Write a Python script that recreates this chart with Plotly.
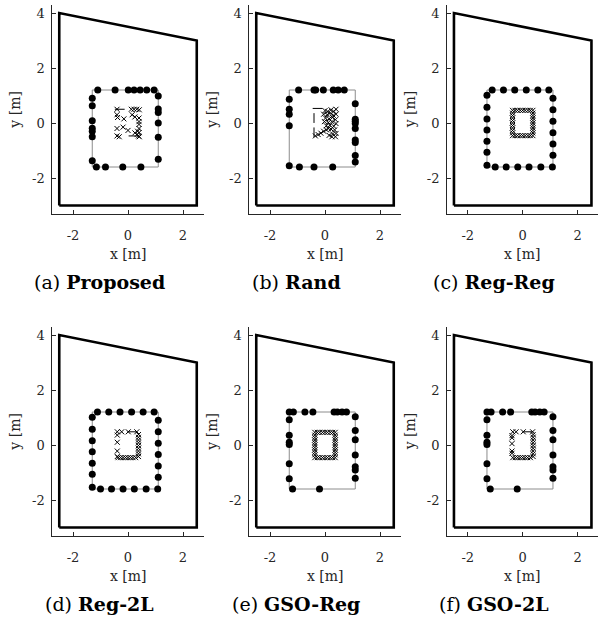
import plotly.graph_objects as go

# ---------------- geometry ----------------
room_x = [-2.5, -2.5, 2.5, 2.5, -2.5]
room_y = [-3.0, 4.0, 3.0, -3.0, -3.0]

array_x = [-1.3, -1.3, 1.1, 1.1, -1.3]
array_y = [-1.6, 1.2, 1.2, -1.6, -1.6]

x_ticks = [-2, 0, 2]
x_tick_labels = ["-2", "0", "2"]
y_ticks = [-2, 0, 2, 4]
y_tick_labels = ["-2", "0", "2", "4"]

# ---------------- loudspeaker positions ----------------
# (a) Proposed
spk_prop_x = [-1.10, -0.47, 0.01, 0.22, 0.44, 0.68, 0.95,
              -1.3, -1.3, -1.3, -1.3, -1.3, -1.3, -1.3,
              -1.15, -0.82, -0.19, 0.47,
              1.1, 1.1, 1.1, 1.1, 1.1, 1.1]
spk_prop_y = [1.2, 1.2, 1.2, 1.2, 1.2, 1.2, 1.2,
              0.90, 0.63, 0.08, -0.19, -0.30, -0.50, -1.37,
              -1.6, -1.6, -1.6, -1.6,
              0.98, 0.51, 0.38, 0.00, -0.52, -1.32]

# (b) Rand
spk_rand_x = [-0.96, -0.40, -0.34, -0.06, 0.30, 0.48, 0.70,
              -1.3, -1.3, -1.3, -1.3, -1.3,
              -0.93, -0.40, 0.28,
              1.1, 1.1, 1.1, 1.1, 1.1, 1.1, 1.1, 1.1, 1.1]
spk_rand_y = [1.2, 1.2, 1.2, 1.2, 1.2, 1.2, 1.2,
              0.86, 0.50, 0.32, -0.10, -1.55,
              -1.6, -1.6, -1.6,
              0.70, 0.14, 0.06, -0.02, -0.20, -0.62, -0.71, -1.18, -1.42]

# (c), (d) regular array
spk_reg_x = [-1.11, -0.70, -0.29, 0.13, 0.55, 0.95,
             -1.3, -1.3, -1.3, -1.3, -1.3, -1.3, -1.3,
             -1.00, -0.60, -0.18, 0.23, 0.66, 1.08,
             1.1, 1.1, 1.1, 1.1, 1.1, 1.1]
spk_reg_y = [1.2, 1.2, 1.2, 1.2, 1.2, 1.2,
             1.01, 0.57, 0.15, -0.25, -0.66, -1.06, -1.54,
             -1.6, -1.6, -1.6, -1.6, -1.6, -1.6,
             0.90, 0.48, 0.06, -0.35, -0.76, -1.17]

# (e), (f) GSO-selected array
spk_gso_x = [-1.30, -1.15, -0.73, -0.44, 0.33, 0.45, 0.62, 0.78,
             -1.3, -1.3, -1.3, -1.3, -1.3, -1.3,
             -1.18, -0.20,
             1.1, 1.1, 1.1, 1.1, 1.1, 1.1, 1.1]
spk_gso_y = [1.2, 1.2, 1.2, 1.2, 1.2, 1.2, 1.2, 1.2,
             0.92, 0.35, 0.10, 0.02, -0.68, -1.23,
             -1.6, -1.6,
             1.03, 0.53, 0.19, -0.36, -0.79, -0.91, -1.21]

# ---------------- control points ----------------
# (a) Proposed
ctrl_prop_x = [-0.40, 0.12, 0.22, 0.32, 0.41,
               -0.40, -0.38, -0.15, 0.15, 0.25, 0.40, 0.40, 0.40,
               -0.40, -0.18, 0.00, 0.40, 0.35, 0.25, 0.40,
               -0.40, -0.32, 0.38, 0.41, 0.33]
ctrl_prop_y = [0.50, 0.50, 0.50, 0.50, 0.48,
               0.30, 0.20, 0.15, 0.30, 0.22, 0.18, 0.05, -0.05,
               -0.20, -0.15, -0.27, -0.20, -0.30, -0.36, -0.35,
               -0.47, -0.50, -0.47, -0.50, -0.42]
dash_prop_x = [-0.30, 0.20]
dash_prop_y = [0.50, -0.47]
dash_prop_sym = ["line-ew", "line-ew"]

# (b) Rand
ctrl_rand_x = [0.00, 0.10, 0.22, 0.32, 0.40,
               -0.05, 0.08, 0.18, 0.30, 0.40,
               0.02, 0.15, 0.27, 0.38,
               -0.02, 0.12, 0.25, 0.40,
               0.05, 0.18, 0.32,
               0.22, 0.35, 0.40, 0.28, 0.15, 0.38, 0.25,
               -0.35, -0.25, -0.15, -0.05, 0.05, 0.12]
ctrl_rand_y = [0.45, 0.42, 0.48, 0.42, 0.50,
               0.32, 0.30, 0.35, 0.28, 0.32,
               0.18, 0.15, 0.20, 0.12,
               0.05, 0.02, 0.05, -0.02,
               -0.10, -0.08, -0.12,
               -0.22, -0.25, -0.38, -0.40, -0.45, -0.50, -0.50,
               -0.47, -0.42, -0.37, -0.30, -0.25, -0.20]
dash_rand_x = [-0.27, -0.40, -0.40]
dash_rand_y = [0.53, 0.18, -0.34]
dash_rand_sym = ["line-ew", "line-ns", "line-ns"]

# (c), (e) regular control grid on the region boundary
grid_x = [-0.37, -0.28, -0.19, -0.09, 0.00, 0.09, 0.19, 0.28, 0.37]
grid_y = [-0.36, -0.27, -0.18, -0.09, 0.00, 0.09, 0.18, 0.27, 0.36]
grid_top, grid_bottom = 0.46, -0.46
ctrl_reg_x = grid_x + grid_x + [grid_x[0]] * len(grid_y) + [grid_x[-1]] * len(grid_y)
ctrl_reg_y = [grid_top] * len(grid_x) + [grid_bottom] * len(grid_x) + grid_y + grid_y

# (d) Reg-2L
ctrl_r2l_x = [-0.39, -0.23, 0.01, 0.32,
              -0.39, -0.39, -0.39, -0.39,
              0.38, 0.38, 0.38, 0.38, 0.38, 0.38, 0.38, 0.38, 0.38,
              -0.36, -0.27, -0.18, -0.09, 0.00, 0.09, 0.18, 0.28]
ctrl_r2l_y = [0.48, 0.48, 0.48, 0.48,
              0.36, 0.10, -0.22, -0.42,
              0.38, 0.28, 0.18, 0.08, -0.02, -0.12, -0.22, -0.32, -0.42,
              -0.46, -0.46, -0.46, -0.46, -0.46, -0.46, -0.46, -0.46]
dash_r2l_x = [0.16]
dash_r2l_y = [0.48]
dash_r2l_sym = ["line-ew"]

# (f) GSO-2L
ctrl_g2l_x = [-0.36, -0.24, 0.02, 0.36,
              -0.39, -0.39, -0.39, -0.39, -0.39,
              0.38, 0.38, 0.38, 0.38, 0.38, 0.38, 0.38, 0.38, 0.38,
              -0.36, -0.27, -0.18, -0.09, 0.00, 0.09, 0.18, 0.28]
ctrl_g2l_y = [0.48, 0.48, 0.48, 0.48,
              0.34, 0.26, 0.05, -0.22, -0.30,
              0.38, 0.28, 0.18, 0.08, -0.02, -0.12, -0.22, -0.32, -0.42,
              -0.46, -0.46, -0.46, -0.46, -0.46, -0.46, -0.46, -0.46]
dash_g2l_x = [0.18]
dash_g2l_y = [0.48]
dash_g2l_sym = ["line-ew"]

labels = ["(a) <b>Proposed</b>", "(b) <b>Rand</b>", "(c) <b>Reg-Reg</b>",
          "(d) <b>Reg-2L</b>", "(e) <b>GSO-Reg</b>", "(f) <b>GSO-2L</b>"]

panels = [
    (spk_prop_x, spk_prop_y, ctrl_prop_x, ctrl_prop_y, dash_prop_x, dash_prop_y, dash_prop_sym),
    (spk_rand_x, spk_rand_y, ctrl_rand_x, ctrl_rand_y, dash_rand_x, dash_rand_y, dash_rand_sym),
    (spk_reg_x, spk_reg_y, ctrl_reg_x, ctrl_reg_y, [], [], []),
    (spk_reg_x, spk_reg_y, ctrl_r2l_x, ctrl_r2l_y, dash_r2l_x, dash_r2l_y, dash_r2l_sym),
    (spk_gso_x, spk_gso_y, ctrl_reg_x, ctrl_reg_y, [], [], []),
    (spk_gso_x, spk_gso_y, ctrl_g2l_x, ctrl_g2l_y, dash_g2l_x, dash_g2l_y, dash_g2l_sym),
]

# ---------------- layout geometry (pixels) ----------------
W, H = 606, 622
X_RANGE = [-2.75, 2.75]
Y_RANGE = [-3.3, 4.3]
SCALE = 27.5                      # px per metre, equal on both axes
col_x0 = [128.0, 325.0, 522.7]    # pixel column of x = 0
row_y0 = [123.0, 445.0]           # pixel row of y = 0

FONT = "DejaVu Serif"
AX_COL = "#262626"

fig = go.Figure()
layout = dict(width=W, height=H, margin=dict(l=0, r=0, t=0, b=0),
              paper_bgcolor="white", plot_bgcolor="white", showlegend=False)
annotations = []

for i, (sx, sy, cx, cy, dx, dy, dsym) in enumerate(panels):
    r, c = divmod(i, 3)
    x0, y0 = col_x0[c], row_y0[r]
    left = x0 + X_RANGE[0] * SCALE
    right = x0 + X_RANGE[1] * SCALE
    top = y0 - Y_RANGE[1] * SCALE
    bottom = y0 - Y_RANGE[0] * SCALE
    n = "" if i == 0 else str(i + 1)
    xa, ya = "x" + n, "y" + n

    layout["xaxis" + n] = dict(
        domain=[left / W, right / W], range=X_RANGE, anchor=ya,
        tickvals=x_ticks, ticktext=x_tick_labels, ticks="inside", ticklen=4,
        tickcolor=AX_COL, showline=True, linecolor=AX_COL, linewidth=1,
        showgrid=False, zeroline=False, fixedrange=True, ticklabelstandoff=10,
        tickfont=dict(family=FONT, size=13, color=AX_COL))
    layout["yaxis" + n] = dict(
        domain=[1 - bottom / H, 1 - top / H], range=Y_RANGE, anchor=xa,
        tickvals=y_ticks, ticktext=y_tick_labels, ticks="inside", ticklen=4,
        tickcolor=AX_COL, showline=True, linecolor=AX_COL, linewidth=1,
        showgrid=False, zeroline=False, fixedrange=True, ticklabelstandoff=4,
        tickfont=dict(family=FONT, size=13, color=AX_COL))

    # room boundary
    fig.add_trace(go.Scatter(x=room_x, y=room_y, mode="lines", xaxis=xa, yaxis=ya,
                             line=dict(color="black", width=2.6), hoverinfo="skip"))
    # array boundary
    fig.add_trace(go.Scatter(x=array_x, y=array_y, mode="lines", xaxis=xa, yaxis=ya,
                             line=dict(color="#8c8c8c", width=1), hoverinfo="skip"))
    # control points
    fig.add_trace(go.Scatter(x=cx, y=cy, mode="markers", xaxis=xa, yaxis=ya,
                             marker=dict(symbol="x-thin", size=5, color="black",
                                         line=dict(color="black", width=1))))
    if dx:
        fig.add_trace(go.Scatter(x=dx, y=dy, mode="markers", xaxis=xa, yaxis=ya,
                                 marker=dict(symbol=dsym, size=7, color="black",
                                             line=dict(color="black", width=1))))
    # loudspeakers
    fig.add_trace(go.Scatter(x=sx, y=sy, mode="markers", xaxis=xa, yaxis=ya,
                             marker=dict(symbol="circle", size=7, color="black",
                                         line=dict(width=0))))

    # axis titles and caption
    annotations.append(dict(text="x [m]", x=x0 / W, y=1 - (bottom + 40) / H,
                            xref="paper", yref="paper", showarrow=False,
                            xanchor="center", yanchor="middle",
                            font=dict(family=FONT, size=14, color=AX_COL)))
    annotations.append(dict(text="y [m]", x=(left - 37) / W, y=1 - ((top + bottom) / 2) / H,
                            xref="paper", yref="paper", showarrow=False, textangle=-90,
                            xanchor="center", yanchor="middle",
                            font=dict(family=FONT, size=14, color=AX_COL)))
    annotations.append(dict(text=labels[i], x=(x0 - 29) / W, y=1 - (bottom + 68) / H,
                            xref="paper", yref="paper", showarrow=False,
                            xanchor="center", yanchor="middle",
                            font=dict(family=FONT, size=19, color="black")))

layout["annotations"] = annotations
fig.update_layout(**layout)
fig.write_html("out.html")
